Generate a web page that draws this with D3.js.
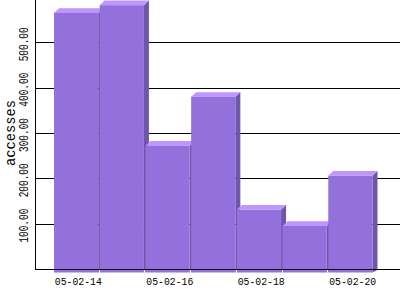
<!DOCTYPE html>
<html>
<head>
<meta charset="utf-8">
<style>
    body { margin: 0; background: #fff; }
    svg { display: block; }
</style>
<script src="https://cdn.jsdelivr.net/npm/d3@7"></script>
</head>
<body>
<div id="chart"></div>
<script>
var width = 400,
        height = 300;

// accesses per day
var days = ["05-02-14", "05-02-15", "05-02-16", "05-02-17", "05-02-18", "05-02-19", "05-02-20"];
var accesses = [565, 582, 272, 380, 131, 95, 206];
var yTicks = [100, 200, 300, 400, 500];
var xLabels = ["05-02-14", "05-02-16", "05-02-18", "05-02-20"];

var left = 35, base = 269, depth = 5, rise = 4.6;

var svg = d3.select("#chart").append("svg")
        .attr("width", width)
        .attr("height", height)
        .attr("shape-rendering", "crispEdges");

var x = d3.scaleBand()
        .domain(days)
        .range([54, 374])
        .padding(0);

var y = d3.scaleLinear()
        .domain([0, 600])
        .range([base, base - 6 * 45.33]);

var front = x.bandwidth() - 1.5;

// grid lines, behind the bars
svg.append("g").selectAll("line")
        .data(yTicks)
        .enter().append("line")
        .attr("x1", left)
        .attr("x2", width)
        .attr("y1", function (d) { return Math.round(y(d)) + 0.5; })
        .attr("y2", function (d) { return Math.round(y(d)) + 0.5; })
        .attr("stroke", "#000")
        .attr("stroke-width", 1);

svg.append("line")
        .attr("x1", left + 0.5)
        .attr("x2", left + 0.5)
        .attr("y1", 0)
        .attr("y2", base + 0.5)
        .attr("stroke", "#000")
        .attr("stroke-width", 1);

// 3d bars, drawn left to right so each front hides the previous side
var bars = svg.append("g").attr("id", "bars").attr("shape-rendering", "auto");
days.forEach(function (d, i) {
    var x0 = x(d), x1 = x(d) + front,
            yt = y(accesses[i]), yb = base + 3.5;
    bars.append("polygon")
            .attr("points", [[x1, yt], [x1 + depth, yt - rise], [x1 + depth, yb - rise + 2], [x1, yb]].join(" "))
            .attr("fill", "#6f56ad");
    bars.append("polygon")
            .attr("points", [[x0, yt], [x0 + depth, yt - rise], [x1 + depth, yt - rise], [x1, yt]].join(" "))
            .attr("fill", "#bf95ff");
    bars.append("rect")
            .attr("x", x0)
            .attr("y", yt)
            .attr("width", front)
            .attr("height", yb - yt)
            .attr("fill", "#9370db");
});

// x axis line sits over the bars
svg.append("line")
        .attr("x1", left)
        .attr("x2", width)
        .attr("y1", base + 0.5)
        .attr("y2", base + 0.5)
        .attr("stroke", "#000")
        .attr("stroke-width", 1);

svg.append("g").selectAll("rect")
        .data(days.slice(1))
        .enter().append("rect")
        .attr("x", function (d) { return Math.round(x(d)) - 1; })
        .attr("y", base + 1)
        .attr("width", 1)
        .attr("height", 2)
        .attr("fill", "#fff");

svg.append("g").selectAll("text")
        .data(xLabels)
        .enter().append("text")
        .attr("x", function (d) { return x(d) + x.bandwidth() / 2 + 1.5; })
        .attr("y", 285)
        .attr("text-anchor", "middle")
        .attr("font-family", "Liberation Mono")
        .attr("font-size", 11.5)
        .attr("textLength", 47)
        .attr("lengthAdjust", "spacingAndGlyphs")
        .text(function (d) { return d; });

svg.append("g").selectAll("text")
        .data(yTicks)
        .enter().append("text")
        .attr("transform", function (d) { return "translate(28," + (y(d) + 2) + ") rotate(-90)"; })
        .attr("text-anchor", "middle")
        .attr("font-family", "Liberation Mono")
        .attr("font-size", 12)
        .attr("textLength", 34)
        .attr("lengthAdjust", "spacingAndGlyphs")
        .text(function (d) { return d3.format(".2f")(d); });

svg.append("text")
        .attr("transform", "translate(14.5,133) rotate(-90)")
        .attr("text-anchor", "middle")
        .attr("font-family", "Liberation Mono")
        .attr("font-size", 15)
        .attr("textLength", 66)
        .attr("lengthAdjust", "spacingAndGlyphs")
        .text("accesses");
</script>
</body>
</html>
